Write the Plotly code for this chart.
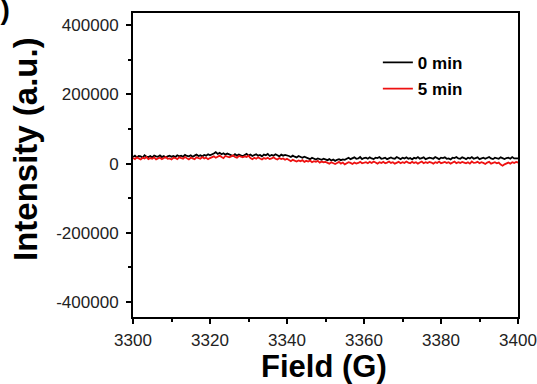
import numpy as np
import plotly.graph_objects as go

black_k = [
    19,23,18,22,21,17,24,20,19,22,18,23,21,20,24,19,22,18,21,23,20,
    22,19,24,21,23,20,25,22,21,24,20,23,26,22,24,21,25,23,27,24,
    26,29,33,28,31,27,30,26,29,27,
    25,22,27,23,26,24,21,25,28,23,26,22,24,27,23,25,21,26,24,28,22,25,23,27,24,21,26,23,25,24,
    22,19,23,20,18,22,19,17,20,18,
    16,13,17,14,12,15,13,11,14,12,
    10,13,9,12,8,11,13,10,12,11,
    14,17,13,16,18,14,15,19,13,16,17,14,18,15,13,17,16,19,14,15,
    17,13,16,18,15,14,19,16,13,17,15,18,14,16,12,17,15,19,14,16,
    18,13,15,17,16,14,19,15,13,17,16,18,14,15,12,17,16,19,15,14,
    18,16,13,17,15,19,14,16,18,13,15,17,14,16,19,15,13,17,16,14,
    18,15,13,16,17,14,19,15,16,15,
]
red_k = [
    16,13,18,14,12,17,15,19,13,16,14,18,12,15,17,13,16,19,14,15,
    12,17,16,13,18,15,14,19,16,12,17,15,13,18,16,14,19,15,17,13,16,
    18,21,17,20,23,19,16,22,20,18,21,24,19,17,22,20,18,21,19,23,
    16,13,17,14,18,15,12,16,14,17,13,15,18,14,12,16,13,15,11,14,
    10,7,11,8,6,9,7,10,5,8,6,9,4,7,5,8,3,6,4,5,
    3,0,4,1,-1,2,5,0,3,-2,1,4,2,-1,3,0,2,5,1,3,
    4,1,5,2,6,3,0,4,2,5,1,3,6,2,4,0,3,5,1,4,
    2,6,3,1,5,2,4,0,3,6,1,4,2,5,3,0,4,2,6,1,
    3,5,2,4,0,3,6,1,4,2,5,3,1,4,0,6,2,3,5,1,
    4,2,-1,3,5,0,2,4,1,3,-3,-6,-2,1,3,0,4,2,5,3,
]
series_names = ["0 min", "5 min"]
series_colors = ["#000000", "#ee1111"]

x_ticks = [3300, 3320, 3340, 3360, 3380, 3400]
y_ticks = [-400000, -200000, 0, 200000, 400000]
y_ticktext = ["-400000", "-200000", "0", "200000", "400000"]

field_black = np.linspace(3300, 3400, len(black_k))
field_red = np.linspace(3300, 3400, len(red_k))

FONT = "Arial, Liberation Sans, sans-serif"

fig = go.Figure()
fig.add_trace(go.Scatter(x=field_black, y=np.array(black_k) * 1000, mode="lines",
                         name="<b>" + series_names[0] + "</b>", legendgroup="a",
                         line=dict(color=series_colors[0], width=1.8)))
fig.add_trace(go.Scatter(x=field_red, y=np.array(red_k) * 1000, mode="lines",
                         name="<b>" + series_names[1] + "</b>", legendgroup="b",
                         line=dict(color=series_colors[1], width=1.8)))

axis_common = dict(showline=True, linecolor="black", linewidth=2, mirror=True,
                   showgrid=False, zeroline=False, ticks="outside", ticklen=5,
                   tickwidth=1.5, tickcolor="black", automargin=False,
                   tickfont=dict(family=FONT, size=17, color="#222"))

fig.update_xaxes(range=[3300, 3400], tickvals=x_ticks, ticklabelstandoff=2,
                 minor=dict(dtick=10, ticks="outside", ticklen=3, tickwidth=1.5, tickcolor="black"),
                 **axis_common)
fig.update_yaxes(range=[-443000, 435000], tickvals=y_ticks, ticktext=y_ticktext,
                 ticklabelstandoff=4,
                 minor=dict(dtick=100000, ticks="outside", ticklen=3, tickwidth=1.5, tickcolor="black"),
                 **axis_common)

W, H = 385, 304  # plot area in pixels
fig.update_layout(
    width=537, height=384,
    margin=dict(l=133, r=19, t=13, b=67),
    plot_bgcolor="white", paper_bgcolor="white",
    showlegend=True,
    legend=dict(x=0.636, y=0.895, xanchor="left", yanchor="top",
                bgcolor="rgba(0,0,0,0)", tracegroupgap=1,
                font=dict(family=FONT, size=17, color="black")),
    annotations=[
        dict(text="<b>(b)</b>", xref="paper", yref="paper",
             x=(12 - 133) / W, y=1 + 21 / H, xanchor="right", yanchor="top",
             showarrow=False, font=dict(family=FONT, size=28, color="black")),
        dict(text="<b>Field (G)</b>", xref="paper", yref="paper",
             x=(324 - 133) / W, y=(317 - 366) / H, xanchor="center", yanchor="middle",
             showarrow=False, font=dict(family=FONT, size=31, color="black")),
        dict(text="<b>Intensity (a.u.)</b>", xref="paper", yref="paper", textangle=-90,
             x=(26 - 133) / W, y=(317 - 149) / H, xanchor="center", yanchor="middle",
             showarrow=False, font=dict(family=FONT, size=33, color="black")),
    ],
)

fig.write_html("out.html", config={"displayModeBar": False},
               post_script="document.body.style.margin='0';document.body.style.overflow='hidden';")
